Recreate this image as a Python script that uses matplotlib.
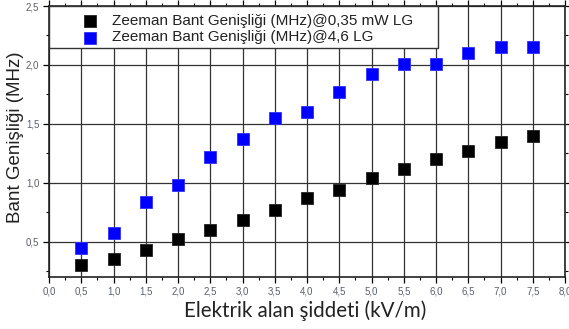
import matplotlib
matplotlib.use("Agg")
import matplotlib.pyplot as plt
from matplotlib.ticker import MultipleLocator, FuncFormatter
from matplotlib.patches import Rectangle
from matplotlib.lines import Line2D

x = [0.5, 1.0, 1.5, 2.0, 2.5, 3.0, 3.5, 4.0, 4.5, 5.0, 5.5, 6.0, 6.5, 7.0, 7.5]
black_vals = [0.30, 0.35, 0.43, 0.52, 0.60, 0.68, 0.77, 0.87, 0.94, 1.04, 1.12, 1.20, 1.27, 1.35, 1.40]
blue_vals = [0.45, 0.575, 0.84, 0.98, 1.22, 1.37, 1.55, 1.60, 1.77, 1.92, 2.01, 2.01, 2.10, 2.155, 2.155]
label_black = "Zeeman Bant Genişliği (MHz)@0,35 mW LG"
label_blue = "Zeeman Bant Genişliği (MHz)@4,6 LG"
xlabel = "Elektrik alan şiddeti (kV/m)"
ylabel = "Bant Genişliği (MHz)"

W, H = 569, 329
fig = plt.figure(figsize=(W/100, H/100), dpi=100)
L, R, T, B = 49, 565, 6, 277
ax = fig.add_axes([L/W, 1-B/H, (R-L)/W, (B-T)/H])

ax.plot(x, black_vals, 's', color='black', markersize=9, markeredgewidth=0.6,
        markeredgecolor='#222222', zorder=3)
ax.plot(x, blue_vals, 's', color='#0000ff', markersize=9, markeredgewidth=0.6,
        markeredgecolor='#3030ff', zorder=3)

ax.set_xlim(0, 8)
ax.set_ylim(0.2, 2.5)
ax.xaxis.set_major_locator(MultipleLocator(0.5))
ax.xaxis.set_minor_locator(MultipleLocator(0.25))
ax.yaxis.set_major_locator(MultipleLocator(0.5))
ax.yaxis.set_minor_locator(MultipleLocator(0.25))
fmt = FuncFormatter(lambda v, p: f"{v:.1f}".replace('.', ','))
ax.xaxis.set_major_formatter(fmt)
ax.yaxis.set_major_formatter(fmt)

ax.grid(True, which='major', color='#333333', linewidth=0.9)
ax.set_axisbelow(True)
for s in ax.spines.values():
    s.set_linewidth(1.2)
    s.set_color('#222222')

ax.tick_params(axis='both', which='major', labelsize=7, labelcolor='#5a6070',
               direction='out', length=4, width=0.9, pad=3)
ax.tick_params(axis='both', which='minor', direction='out', length=2.5, width=0.8)
ax.tick_params(top=True, right=True, which='both')
for t in ax.xaxis.get_ticklabels() + ax.yaxis.get_ticklabels():
    t.set_family('Liberation Sans')

fig.text(305/W, 1-311/H, xlabel, fontsize=14.8, family='Lato', color='#222222',
         ha='center', va='center')
fig.text(16/W, 1-137/H, ylabel, fontsize=13.5, family='Liberation Sans', color='#222222',
         ha='center', va='center', rotation=90)

# legend box (manual)
lx1 = 0.0
lx2 = (438-L)/(R-L)
ly1 = (B-48)/(B-T)
ax.add_patch(Rectangle((lx1, ly1), lx2-lx1, 1-ly1, transform=ax.transAxes,
                       facecolor='white', edgecolor='#333333', linewidth=1.0, zorder=5))
rows = [((B-20.5)/(B-T), 'black', '#222222', label_black),
        ((B-37.5)/(B-T), '#0000ff', '#3030ff', label_blue)]
for yy, fc, ec, lab in rows:
    ax.add_line(Line2D([(90-L)/(R-L)], [yy], marker='s', markersize=9, color=fc,
                       markeredgecolor=ec, markeredgewidth=0.6, linestyle='none',
                       transform=ax.transAxes, zorder=6))
    ax.text((112-L)/(R-L), yy, lab, transform=ax.transAxes, fontsize=11,
            family='Liberation Sans', color='#222222', va='center', ha='left', zorder=6)

fig.savefig("out.png", dpi=100)
